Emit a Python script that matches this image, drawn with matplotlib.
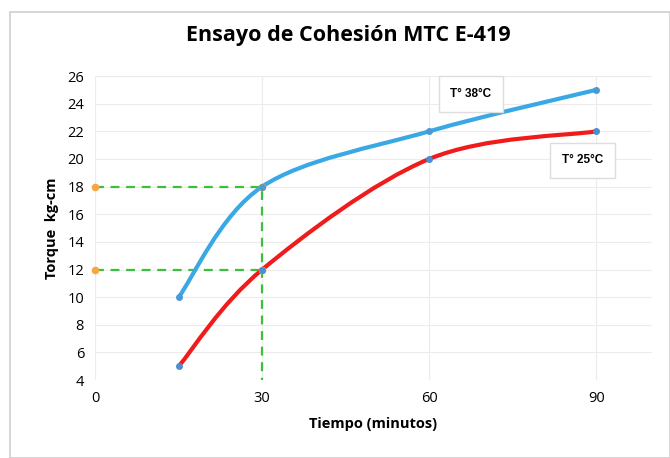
import matplotlib
matplotlib.use("Agg")
import matplotlib.pyplot as plt
from matplotlib.path import Path
from matplotlib.patches import PathPatch, Rectangle

# data
tiempo = [15, 30, 60, 90]
torque_38 = [10, 18, 22, 25]
torque_25 = [5, 12, 20, 22]
ref_x = [0, 30, 30, 30]
ref_y = [18, 18, 4]
ref_y2 = [12, 12]
x_ticks = [0, 30, 60, 90]
y_ticks = list(range(4, 27, 2))


def smooth_path(xs, ys):
    """Excel-like smoothed line: cubic Bezier through the points (Catmull-Rom)."""
    pts = list(zip(xs, ys))
    verts = [pts[0]]
    codes = [Path.MOVETO]
    for i in range(len(pts) - 1):
        p0 = pts[i - 1] if i > 0 else pts[i]
        p1, p2 = pts[i], pts[i + 1]
        p3 = pts[i + 2] if i + 2 < len(pts) else pts[i + 1]
        c1 = (p1[0] + (p2[0] - p0[0]) / 6, p1[1] + (p2[1] - p0[1]) / 6)
        c2 = (p2[0] - (p3[0] - p1[0]) / 6, p2[1] - (p3[1] - p1[1]) / 6)
        verts += [c1, c2, p2]
        codes += [Path.CURVE4] * 3
    return Path(verts, codes)


plt.rcParams["font.family"] = ["Open Sans", "DejaVu Sans"]

fig = plt.figure(figsize=(6.7, 4.58), dpi=100)
fig.patches.append(Rectangle((0.015, 0.0), 0.985, 0.973, transform=fig.transFigure,
                             fill=False, edgecolor="#cfcfcf", linewidth=1.2))
ax = fig.add_axes([0.142, 0.170, 0.831, 0.664])

# reference dashed lines
ax.plot([ref_x[0], ref_x[1], ref_x[2]], ref_y, color="#3cbf3c", linestyle=(0, (4, 3)),
        linewidth=1.6, zorder=2)
ax.plot([ref_x[0], ref_x[1]], ref_y2, color="#3cbf3c", linestyle=(0, (4, 3)),
        linewidth=1.6, zorder=2)
ax.plot([ref_x[0], ref_x[1], ref_x[0], ref_x[1]], [ref_y[0], ref_y[1], ref_y2[0], ref_y2[1]],
        "o", color="#f5a742", markersize=4.5, zorder=4, clip_on=False)

ax.add_patch(PathPatch(smooth_path(tiempo, torque_38), facecolor="none",
                       edgecolor="#3aa8e4", linewidth=3, zorder=3))
ax.add_patch(PathPatch(smooth_path(tiempo, torque_25), facecolor="none",
                       edgecolor="#f01c1c", linewidth=3, zorder=3))
ax.plot(tiempo, torque_38, "o", color="#4a9ad6", markersize=4, zorder=4)
ax.plot(tiempo, torque_25, "o", color="#4a8fd0", markersize=4, zorder=4)

box = dict(boxstyle="square,pad=1.0", facecolor="white", edgecolor="#dddddd")
ax.text(67.5, 24.7, "T° 38°C", fontsize=8.5, fontweight="bold", family="Liberation Sans",
        ha="center", va="center", bbox=box)
ax.text(87.5, 19.9, "T° 25°C", fontsize=8.5, fontweight="bold", family="Liberation Sans",
        ha="center", va="center", bbox=box)

ax.set_xlim(0, 100)
ax.set_ylim(4, 26)
ax.set_xticks(x_ticks)
ax.set_yticks(y_ticks)
ax.tick_params(length=0, labelsize=10.5, pad=8)
ax.grid(True, color="#ececec", linewidth=0.8)
ax.set_axisbelow(True)
for s in ax.spines.values():
    s.set_visible(False)

ax.set_xlabel("Tiempo (minutos)", fontsize=10.5, fontweight="bold", labelpad=8)
ax.set_ylabel("Torque  kg-cm", fontsize=10.5, fontweight="bold", labelpad=6)
fig.suptitle("Ensayo de Cohesión MTC E-419", fontsize=15.5, fontweight="bold",
             x=0.52, y=0.945)

fig.savefig("out.png", dpi=100)
